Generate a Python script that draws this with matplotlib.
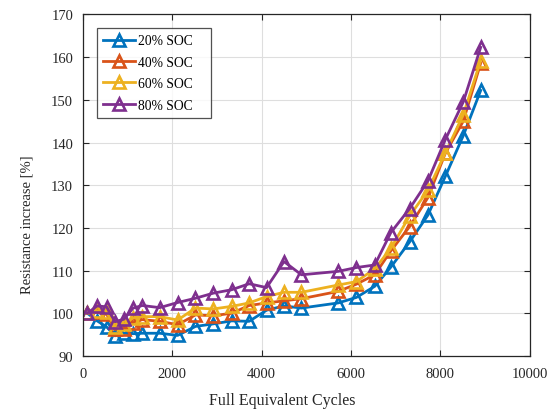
import matplotlib
matplotlib.use("Agg")
import matplotlib.pyplot as plt

plt.rcParams['font.family'] = ['Liberation Serif', 'DejaVu Serif']
plt.rcParams['mathtext.fontset'] = 'stix'

# Full equivalent cycles at each check-up
fec = [100, 320, 530, 720, 920, 1125, 1330, 1720, 2120, 2520, 2920, 3330, 3720,
       4110, 4500, 4890, 5710, 6120, 6530, 6890, 7310, 7720, 8110, 8510, 8900]

# Resistance increase [%] per state of charge
soc20 = [100, 98.2, 96.8, 94.7, 95.3, 95.2, 95.3, 95.3, 94.8, 96.9, 97.5, 98.2, 98.1,
         100.7, 101.7, 101.2, 102.4, 103.7, 106.3, 110.8, 116.7, 123.0, 132.1, 141.6, 152.2]
soc40 = [100, 100.2, 99.8, 96.2, 96.3, 97.8, 98.5, 98.1, 97.3, 99.6, 99.4, 100.0, 101.8,
         102.4, 102.9, 103.4, 105.1, 106.8, 109.0, 114.6, 120.3, 127.1, 137.5, 145.0, 158.6]
soc60 = [100, 100.5, 100.2, 96.8, 97.4, 98.9, 99.2, 99.2, 98.4, 101.2, 101.0, 101.6, 102.4,
         103.9, 104.9, 104.9, 106.6, 107.4, 110.4, 115.2, 122.8, 128.8, 137.6, 146.5, 159.2]
soc80 = [100, 101.7, 101.5, 98.0, 98.6, 101.2, 101.8, 101.3, 102.5, 103.5, 104.7, 105.5, 106.9,
         106.0, 112.1, 109.0, 109.8, 110.7, 111.3, 118.9, 124.5, 131.0, 140.7, 149.5, 162.3]

labels = ['20% SOC', '40% SOC', '60% SOC', '80% SOC']
colors = ['#0072BD', '#D95319', '#EDB120', '#7E2F8E']
series = [soc20, soc40, soc60, soc80]

xticks = [0, 2000, 4000, 6000, 8000, 10000]
yticks = [90, 100, 110, 120, 130, 140, 150, 160, 170]

fig = plt.figure(figsize=(5.56, 4.14), dpi=100)
ax = fig.add_axes([0.149, 0.138, 0.804, 0.8246])

for vals, lab, col in zip(series, labels, colors):
    ax.plot(fec, vals, color=col, lw=2.0, marker='^', ms=9, mfc='none',
            mec=col, mew=1.9, label=lab)

ax.set_xlim(0, 10000)
ax.set_ylim(90, 170)
ax.set_xticks(xticks)
ax.set_yticks(yticks)
ax.grid(True, color='#dedede', lw=0.8)
ax.set_axisbelow(True)

for sp in ax.spines.values():
    sp.set_color('#262626')
    sp.set_linewidth(0.9)
ax.tick_params(direction='in', top=True, right=True, length=4, width=0.8,
               colors='#262626', labelsize=10.5)
ax.tick_params(axis='x', pad=8)
ax.tick_params(axis='y', pad=7)

ax.set_xlabel('Full Equivalent Cycles', fontsize=11.5, color='#262626', va='center')
ax.set_ylabel('Resistance increase [%]', fontsize=10.5, color='#262626')
ax.xaxis.set_label_coords(0.445, -0.128)
ax.yaxis.set_label_coords(-0.11, 0.387)

leg = ax.legend(loc='upper left', bbox_to_anchor=(0.032, 0.66, 0.254, 0.30),
                mode='expand', borderaxespad=0,
                fontsize=9.8, frameon=True, fancybox=False, edgecolor='#262626',
                handlelength=2.35, handletextpad=0.2, borderpad=0.45,
                labelspacing=0.62)
leg.get_frame().set_linewidth(0.9)

fig.savefig('out.png', dpi=100)
